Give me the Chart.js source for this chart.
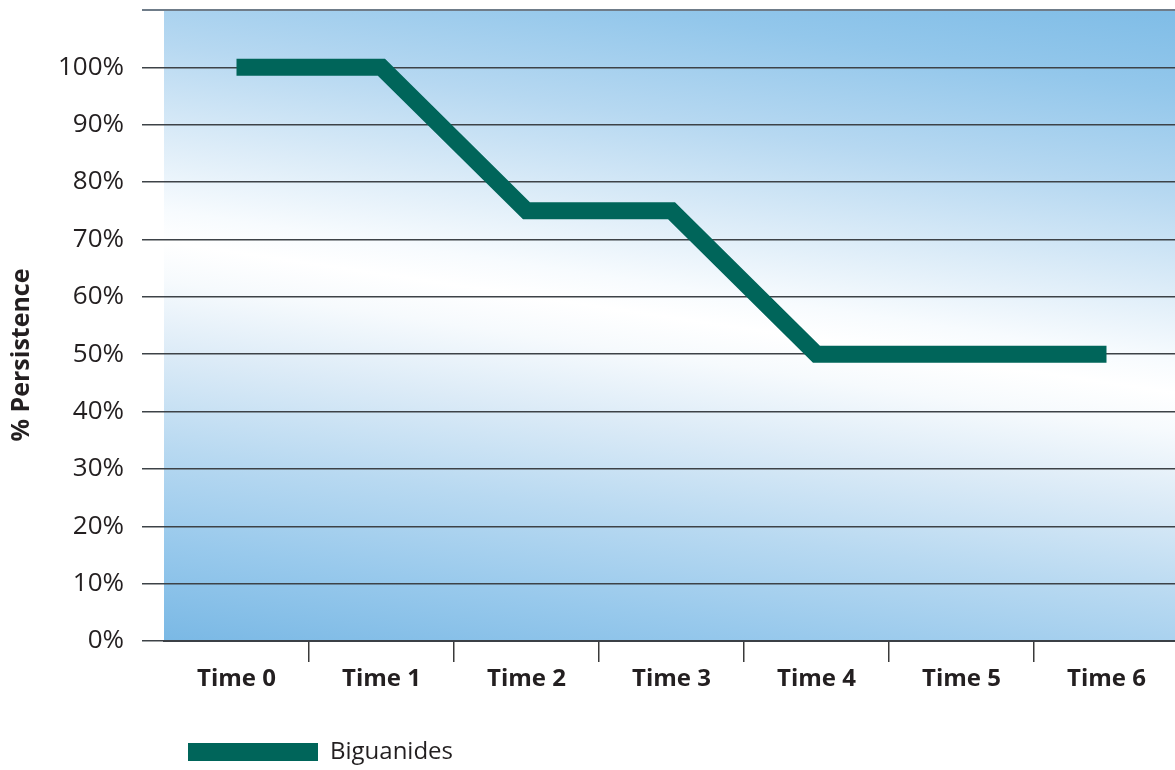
<!DOCTYPE html>
<html>
<head>
<meta charset="utf-8">
<title>% Persistence – Biguanides</title>
<script src="https://cdn.jsdelivr.net/npm/chart.js@4.4.1/dist/chart.umd.min.js"></script>
<style>
  html, body { margin: 0; padding: 0; background: #ffffff; overflow: hidden; }
  #wrap { width: 1180px; height: 775px; }
</style>
</head>
<body>
<div id="wrap"><canvas id="chart" width="1180" height="775"></canvas></div>
<script>
// Data
const categories = ['Time 0', 'Time 1', 'Time 2', 'Time 3', 'Time 4', 'Time 5', 'Time 6'];
const seriesName = 'Biguanides';
const persistence = [100, 100, 75, 75, 50, 50, 50];
const yAxisTitle = '% Persistence';
const yTickStep = 10;
const yMax = 110;

const INK = '#231f20';
const LINE_GREEN = '#00655a';

// Blue-white-blue sheen behind the plotting area
const plotBackground = {
  id: 'plotBackground',
  beforeDraw(chart) {
    const { ctx, chartArea: a } = chart;
    const cx = (a.left + a.right) / 2, cy = (a.top + a.bottom) / 2 - 8;
    const nx = -0.148, ny = 0.989, half = 392;
    const g = ctx.createLinearGradient(cx - nx * half, cy - ny * half, cx + nx * half, cy + ny * half);
    g.addColorStop(0.00, '#7cbbe6');
    g.addColorStop(0.12, '#93c7eb');
    g.addColorStop(0.25, '#b6d8f1');
    g.addColorStop(0.37, '#dcecf8');
    g.addColorStop(0.46, '#f7fbfe');
    g.addColorStop(0.50, '#ffffff');
    g.addColorStop(0.55, '#f6fafd');
    g.addColorStop(0.64, '#dcebf7');
    g.addColorStop(0.76, '#b8d9f1');
    g.addColorStop(0.88, '#98c9ec');
    g.addColorStop(1.00, '#7bb9e5');
    ctx.save();
    ctx.fillStyle = g;
    ctx.fillRect(a.left, a.top, a.right - a.left, a.bottom - a.top);
    ctx.restore();
  }
};

// Rotated y-axis caption
const yCaption = {
  id: 'yCaption',
  afterDraw(chart) {
    const { ctx } = chart;
    ctx.save();
    ctx.translate(22, 355);
    ctx.rotate(-Math.PI / 2);
    ctx.font = "bold 25px 'Open Sans'";
    ctx.fillStyle = INK;
    ctx.textAlign = 'center';
    ctx.textBaseline = 'middle';
    ctx.fillText(yAxisTitle, 0, 0);
    ctx.restore();
  }
};

new Chart(document.getElementById('chart'), {
  type: 'line',
  data: {
    labels: categories,
    datasets: [{
      label: seriesName,
      data: persistence,
      borderColor: LINE_GREEN,
      backgroundColor: LINE_GREEN,
      borderWidth: 17,
      borderJoinStyle: 'miter',
      borderCapStyle: 'butt',
      pointRadius: 0,
      pointHoverRadius: 0,
      tension: 0,
      fill: false
    }]
  },
  options: {
    responsive: false,
    animation: false,
    devicePixelRatio: 1,
    layout: { padding: { top: 10, right: 1, bottom: 1, left: 0 } },
    plugins: {
      tooltip: { enabled: false },
      legend: {
        position: 'bottom',
        align: 'start',
        fullSize: false,
        labels: {
          boxWidth: 130,
          boxHeight: 18,
          padding: 24,
          color: INK,
          font: { family: "'Open Sans'", size: 24, weight: '400' },
          generateLabels(chart) {
            return Chart.defaults.plugins.legend.labels.generateLabels(chart).map(item => ({
              ...item, lineWidth: 0, fillStyle: LINE_GREEN, strokeStyle: LINE_GREEN
            }));
          }
        }
      }
    },
    scales: {
      x: {
        type: 'category',
        offset: true,
        afterFit(scale) { scale.height = 75; },
        grid: {
          offset: true,
          drawOnChartArea: false,
          drawTicks: true,
          tickLength: 21,
          lineWidth: 1.5,
          color: ctx => (ctx.index === 0 ? 'rgba(0,0,0,0)' : '#3a3a3a')
        },
        border: { display: true, color: '#3b4046', width: 2 },
        ticks: {
          color: INK,
          padding: 3,
          maxRotation: 0,
          font: { family: "'Open Sans'", size: 24, weight: 'bold' }
        }
      },
      y: {
        min: 0,
        max: yMax,
        afterFit(scale) {
          scale.width = 164;
          scale.paddingTop = 0;
          scale.paddingBottom = 0;
        },
        grid: {
          drawTicks: true,
          tickLength: 22,
          lineWidth: ctx => (ctx.tick && ctx.tick.value === yMax ? 2 : 1.5),
          color: ctx => (ctx.tick && ctx.tick.value === yMax ? '#6f7c89' : '#3d4247')
        },
        border: { display: false },
        ticks: {
          stepSize: yTickStep,
          padding: 18,
          color: INK,
          font: { family: "'Open Sans'", size: 26, weight: '400' },
          callback: v => (v === yMax ? '' : v + '%')
        }
      }
    }
  },
  plugins: [plotBackground, yCaption]
});
</script>
</body>
</html>
